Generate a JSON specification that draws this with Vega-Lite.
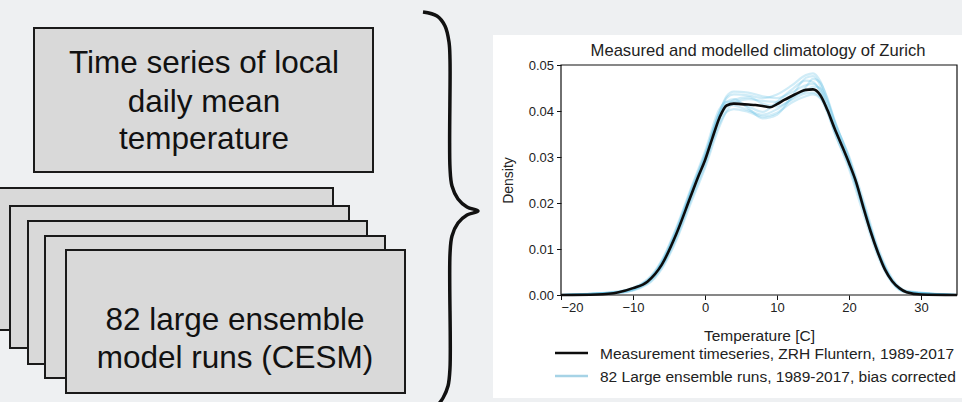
{
  "$schema": "https://vega.github.io/schema/vega-lite/v6.json",
  "width": 396,
  "height": 230,
  "autosize": "none",
  "padding": {"left": 561, "top": 65, "right": 5, "bottom": 107},
  "background": "#eef0f2",
  "config": {"font": "Liberation Sans", "view": {"stroke": null}},
  "datasets": {
    "boxes": [
      {"id": 0, "x": 34, "x2": 373, "y": 28, "y2": 172},
      {"id": 1, "x": -6, "x2": 333, "y": 188, "y2": 330},
      {"id": 2, "x": 10, "x2": 349, "y": 206, "y2": 348},
      {"id": 3, "x": 28, "x2": 367, "y": 221, "y2": 364},
      {"id": 4, "x": 45, "x2": 385, "y": 236, "y2": 378},
      {"id": 5, "x": 66, "x2": 405, "y": 250, "y2": 393}
    ],
    "panel": [{"x": 493, "x2": 970, "y": 35, "y2": 398}],
    "labels": [
      {"x": 204, "y": 73, "text": "Time series of local"},
      {"x": 204, "y": 112, "text": "daily mean"},
      {"x": 204, "y": 149, "text": "temperature"},
      {"x": 235, "y": 330, "text": "82 large ensemble"},
      {"x": 235, "y": 368, "text": "model runs (CESM)"}
    ],
    "chartTitle": [
      {"x": 758, "y": 51, "text": "Measured and modelled climatology of Zurich"}
    ],
    "brace": [
      {"i": 0, "x": 423, "y": 12}, {"i": 1, "x": 437, "y": 16}, {"i": 2, "x": 445, "y": 26},
      {"i": 3, "x": 449, "y": 42}, {"i": 4, "x": 450, "y": 60}, {"i": 5, "x": 450, "y": 168},
      {"i": 6, "x": 452, "y": 186}, {"i": 7, "x": 458, "y": 199}, {"i": 8, "x": 467, "y": 207},
      {"i": 9, "x": 478, "y": 211}, {"i": 10, "x": 467, "y": 215}, {"i": 11, "x": 458, "y": 223},
      {"i": 12, "x": 452, "y": 236}, {"i": 13, "x": 450, "y": 254}, {"i": 14, "x": 450, "y": 368},
      {"i": 15, "x": 448, "y": 386}, {"i": 16, "x": 443, "y": 398}, {"i": 17, "x": 437, "y": 406}
    ],
    "legendRules": [
      {"x": 555, "x2": 588, "y": 353, "s": "Measurement"},
      {"x": 555, "x2": 588, "y": 376, "s": "Ensemble"}
    ],
    "legendText": [
      {"x": 600, "y": 354, "text": "Measurement timeseries, ZRH Fluntern, 1989-2017"},
      {"x": 600, "y": 377, "text": "82 Large ensemble runs, 1989-2017, bias corrected"}
    ],
    "meas": [
      {"t": -20, "d": 0}, {"t": -15, "d": 0.0001}, {"t": -12, "d": 0.0006}, {"t": -10, "d": 0.0015},
      {"t": -8, "d": 0.0029}, {"t": -6, "d": 0.0066}, {"t": -4, "d": 0.0132}, {"t": -2, "d": 0.0214},
      {"t": -1, "d": 0.0255}, {"t": 0, "d": 0.0293}, {"t": 1, "d": 0.034}, {"t": 2, "d": 0.0385},
      {"t": 3, "d": 0.0412}, {"t": 4, "d": 0.0416}, {"t": 5, "d": 0.0415}, {"t": 6, "d": 0.0414},
      {"t": 7, "d": 0.0413}, {"t": 8, "d": 0.0411}, {"t": 9, "d": 0.0408}, {"t": 10, "d": 0.0415},
      {"t": 11, "d": 0.0424}, {"t": 12, "d": 0.0432}, {"t": 13, "d": 0.044}, {"t": 14, "d": 0.0446},
      {"t": 15, "d": 0.0447}, {"t": 16, "d": 0.0435}, {"t": 17, "d": 0.0402}, {"t": 18, "d": 0.0362},
      {"t": 19, "d": 0.0325}, {"t": 20, "d": 0.0287}, {"t": 21, "d": 0.0245}, {"t": 22, "d": 0.019},
      {"t": 23, "d": 0.0138}, {"t": 24, "d": 0.0093}, {"t": 25, "d": 0.0055}, {"t": 26, "d": 0.003},
      {"t": 27, "d": 0.0015}, {"t": 28, "d": 0.0006}, {"t": 30, "d": 0.0001}, {"t": 35, "d": 0}
    ],
    "ens": [
      {"r": 1, "t": -20, "d": 0}, {"r": 1, "t": -12, "d": 0.0007}, {"r": 1, "t": -8, "d": 0.0031}, {"r": 1, "t": -6, "d": 0.0072}, {"r": 1, "t": -4, "d": 0.014}, {"r": 1, "t": -2, "d": 0.0224}, {"r": 1, "t": 0, "d": 0.0304}, {"r": 1, "t": 2, "d": 0.0398}, {"r": 1, "t": 3, "d": 0.0428}, {"r": 1, "t": 4, "d": 0.0436}, {"r": 1, "t": 6, "d": 0.0434}, {"r": 1, "t": 8, "d": 0.0428}, {"r": 1, "t": 10, "d": 0.0436}, {"r": 1, "t": 12, "d": 0.0455}, {"r": 1, "t": 14, "d": 0.0478}, {"r": 1, "t": 15, "d": 0.0482}, {"r": 1, "t": 16, "d": 0.0465}, {"r": 1, "t": 17, "d": 0.0425}, {"r": 1, "t": 18, "d": 0.0378}, {"r": 1, "t": 20, "d": 0.0298}, {"r": 1, "t": 22, "d": 0.0196}, {"r": 1, "t": 24, "d": 0.0096}, {"r": 1, "t": 26, "d": 0.0032}, {"r": 1, "t": 28, "d": 0.0007}, {"r": 1, "t": 35, "d": 0},
      {"r": 2, "t": -20, "d": 0}, {"r": 2, "t": -12, "d": 0.0005}, {"r": 2, "t": -8, "d": 0.0025}, {"r": 2, "t": -6, "d": 0.006}, {"r": 2, "t": -4, "d": 0.0122}, {"r": 2, "t": -2, "d": 0.0204}, {"r": 2, "t": 0, "d": 0.0282}, {"r": 2, "t": 2, "d": 0.0372}, {"r": 2, "t": 3, "d": 0.0398}, {"r": 2, "t": 4, "d": 0.0404}, {"r": 2, "t": 6, "d": 0.0398}, {"r": 2, "t": 8, "d": 0.0388}, {"r": 2, "t": 10, "d": 0.0396}, {"r": 2, "t": 12, "d": 0.0418}, {"r": 2, "t": 14, "d": 0.0432}, {"r": 2, "t": 15, "d": 0.0436}, {"r": 2, "t": 16, "d": 0.0428}, {"r": 2, "t": 17, "d": 0.0396}, {"r": 2, "t": 18, "d": 0.0352}, {"r": 2, "t": 20, "d": 0.028}, {"r": 2, "t": 22, "d": 0.0186}, {"r": 2, "t": 24, "d": 0.009}, {"r": 2, "t": 26, "d": 0.0028}, {"r": 2, "t": 28, "d": 0.0006}, {"r": 2, "t": 35, "d": 0},
      {"r": 3, "t": -20, "d": 0}, {"r": 3, "t": -12, "d": 0.0008}, {"r": 3, "t": -8, "d": 0.0034}, {"r": 3, "t": -6, "d": 0.0076}, {"r": 3, "t": -4, "d": 0.0146}, {"r": 3, "t": -2, "d": 0.023}, {"r": 3, "t": 0, "d": 0.0312}, {"r": 3, "t": 2, "d": 0.0404}, {"r": 3, "t": 3, "d": 0.042}, {"r": 3, "t": 4, "d": 0.042}, {"r": 3, "t": 6, "d": 0.041}, {"r": 3, "t": 8, "d": 0.0398}, {"r": 3, "t": 10, "d": 0.042}, {"r": 3, "t": 12, "d": 0.0446}, {"r": 3, "t": 14, "d": 0.0466}, {"r": 3, "t": 15, "d": 0.0463}, {"r": 3, "t": 16, "d": 0.0442}, {"r": 3, "t": 17, "d": 0.04}, {"r": 3, "t": 18, "d": 0.0354}, {"r": 3, "t": 20, "d": 0.0274}, {"r": 3, "t": 22, "d": 0.0176}, {"r": 3, "t": 24, "d": 0.0084}, {"r": 3, "t": 26, "d": 0.0026}, {"r": 3, "t": 28, "d": 0.0005}, {"r": 3, "t": 35, "d": 0},
      {"r": 4, "t": -20, "d": 0}, {"r": 4, "t": -12, "d": 0.0004}, {"r": 4, "t": -8, "d": 0.0023}, {"r": 4, "t": -6, "d": 0.0057}, {"r": 4, "t": -4, "d": 0.0118}, {"r": 4, "t": -2, "d": 0.0198}, {"r": 4, "t": 0, "d": 0.0276}, {"r": 4, "t": 2, "d": 0.0366}, {"r": 4, "t": 3, "d": 0.04}, {"r": 4, "t": 4, "d": 0.0418}, {"r": 4, "t": 6, "d": 0.0426}, {"r": 4, "t": 8, "d": 0.0422}, {"r": 4, "t": 10, "d": 0.042}, {"r": 4, "t": 12, "d": 0.0432}, {"r": 4, "t": 14, "d": 0.0443}, {"r": 4, "t": 15, "d": 0.0453}, {"r": 4, "t": 16, "d": 0.045}, {"r": 4, "t": 17, "d": 0.042}, {"r": 4, "t": 18, "d": 0.0376}, {"r": 4, "t": 20, "d": 0.0302}, {"r": 4, "t": 22, "d": 0.0206}, {"r": 4, "t": 24, "d": 0.0104}, {"r": 4, "t": 26, "d": 0.0036}, {"r": 4, "t": 28, "d": 0.0009}, {"r": 4, "t": 35, "d": 0},
      {"r": 5, "t": -20, "d": 0}, {"r": 5, "t": -12, "d": 0.0006}, {"r": 5, "t": -8, "d": 0.0029}, {"r": 5, "t": -6, "d": 0.0068}, {"r": 5, "t": -4, "d": 0.0134}, {"r": 5, "t": -2, "d": 0.0218}, {"r": 5, "t": 0, "d": 0.0298}, {"r": 5, "t": 2, "d": 0.0392}, {"r": 5, "t": 3, "d": 0.042}, {"r": 5, "t": 4, "d": 0.0426}, {"r": 5, "t": 6, "d": 0.0406}, {"r": 5, "t": 8, "d": 0.0384}, {"r": 5, "t": 10, "d": 0.0392}, {"r": 5, "t": 12, "d": 0.043}, {"r": 5, "t": 14, "d": 0.0472}, {"r": 5, "t": 15, "d": 0.0476}, {"r": 5, "t": 16, "d": 0.0456}, {"r": 5, "t": 17, "d": 0.041}, {"r": 5, "t": 18, "d": 0.0362}, {"r": 5, "t": 20, "d": 0.0288}, {"r": 5, "t": 22, "d": 0.0192}, {"r": 5, "t": 24, "d": 0.0094}, {"r": 5, "t": 26, "d": 0.0031}, {"r": 5, "t": 28, "d": 0.0007}, {"r": 5, "t": 35, "d": 0},
      {"r": 6, "t": -20, "d": 0}, {"r": 6, "t": -12, "d": 0.0006}, {"r": 6, "t": -8, "d": 0.003}, {"r": 6, "t": -6, "d": 0.0069}, {"r": 6, "t": -4, "d": 0.0136}, {"r": 6, "t": -2, "d": 0.022}, {"r": 6, "t": 0, "d": 0.03}, {"r": 6, "t": 2, "d": 0.0396}, {"r": 6, "t": 3, "d": 0.0432}, {"r": 6, "t": 4, "d": 0.0442}, {"r": 6, "t": 6, "d": 0.044}, {"r": 6, "t": 8, "d": 0.0432}, {"r": 6, "t": 10, "d": 0.0428}, {"r": 6, "t": 12, "d": 0.044}, {"r": 6, "t": 14, "d": 0.0456}, {"r": 6, "t": 15, "d": 0.0459}, {"r": 6, "t": 16, "d": 0.0446}, {"r": 6, "t": 17, "d": 0.0408}, {"r": 6, "t": 18, "d": 0.0366}, {"r": 6, "t": 20, "d": 0.029}, {"r": 6, "t": 22, "d": 0.0195}, {"r": 6, "t": 24, "d": 0.0096}, {"r": 6, "t": 26, "d": 0.0031}, {"r": 6, "t": 28, "d": 0.0007}, {"r": 6, "t": 35, "d": 0},
      {"r": 7, "t": -20, "d": 0}, {"r": 7, "t": -12, "d": 0.0007}, {"r": 7, "t": -8, "d": 0.0032}, {"r": 7, "t": -6, "d": 0.0073}, {"r": 7, "t": -4, "d": 0.0142}, {"r": 7, "t": -2, "d": 0.0226}, {"r": 7, "t": 0, "d": 0.0306}, {"r": 7, "t": 2, "d": 0.0394}, {"r": 7, "t": 3, "d": 0.0414}, {"r": 7, "t": 4, "d": 0.0412}, {"r": 7, "t": 6, "d": 0.0402}, {"r": 7, "t": 8, "d": 0.0392}, {"r": 7, "t": 10, "d": 0.0404}, {"r": 7, "t": 12, "d": 0.0426}, {"r": 7, "t": 14, "d": 0.0452}, {"r": 7, "t": 15, "d": 0.047}, {"r": 7, "t": 16, "d": 0.0462}, {"r": 7, "t": 17, "d": 0.0428}, {"r": 7, "t": 18, "d": 0.038}, {"r": 7, "t": 20, "d": 0.0296}, {"r": 7, "t": 22, "d": 0.0198}, {"r": 7, "t": 24, "d": 0.0098}, {"r": 7, "t": 26, "d": 0.0033}, {"r": 7, "t": 28, "d": 0.0008}, {"r": 7, "t": 35, "d": 0},
      {"r": 8, "t": -20, "d": 0}, {"r": 8, "t": -12, "d": 0.0005}, {"r": 8, "t": -8, "d": 0.0027}, {"r": 8, "t": -6, "d": 0.0063}, {"r": 8, "t": -4, "d": 0.0128}, {"r": 8, "t": -2, "d": 0.021}, {"r": 8, "t": 0, "d": 0.029}, {"r": 8, "t": 2, "d": 0.038}, {"r": 8, "t": 3, "d": 0.041}, {"r": 8, "t": 4, "d": 0.0424}, {"r": 8, "t": 6, "d": 0.043}, {"r": 8, "t": 8, "d": 0.0416}, {"r": 8, "t": 10, "d": 0.041}, {"r": 8, "t": 12, "d": 0.0424}, {"r": 8, "t": 14, "d": 0.0438}, {"r": 8, "t": 15, "d": 0.044}, {"r": 8, "t": 16, "d": 0.043}, {"r": 8, "t": 17, "d": 0.0404}, {"r": 8, "t": 18, "d": 0.0364}, {"r": 8, "t": 20, "d": 0.0284}, {"r": 8, "t": 22, "d": 0.0188}, {"r": 8, "t": 24, "d": 0.0091}, {"r": 8, "t": 26, "d": 0.0029}, {"r": 8, "t": 28, "d": 0.0006}, {"r": 8, "t": 35, "d": 0}
    ]
  },
  "layer": [
    {
      "layer": [
        {
          "data": {"name": "panel"},
          "mark": {"type": "rect", "fill": "#ffffff"},
          "encoding": {
            "x": {"field": "x", "type": "quantitative", "scale": {"domain": [0, 962], "range": [-561, 401], "nice": false, "zero": false}, "axis": null},
            "x2": {"field": "x2"},
            "y": {"field": "y", "type": "quantitative", "scale": {"domain": [0, 402], "range": [-65, 337], "nice": false, "zero": false}, "axis": null},
            "y2": {"field": "y2"}
          }
        },
        {
          "data": {"name": "boxes"},
          "mark": {"type": "rect", "fill": "#d9d9d9", "stroke": "#1a1a1a", "strokeWidth": 2},
          "encoding": {
            "x": {"field": "x", "type": "quantitative"},
            "x2": {"field": "x2"},
            "y": {"field": "y", "type": "quantitative"},
            "y2": {"field": "y2"}
          }
        },
        {
          "data": {"name": "labels"},
          "mark": {"type": "text", "fontSize": 31.5, "color": "#111111", "align": "center", "baseline": "alphabetic", "font": "Liberation Sans"},
          "encoding": {
            "x": {"field": "x", "type": "quantitative"},
            "y": {"field": "y", "type": "quantitative"},
            "text": {"field": "text"}
          }
        },
        {
          "data": {"name": "chartTitle"},
          "mark": {"type": "text", "fontSize": 16.6, "color": "#222222", "align": "center", "baseline": "middle", "font": "Liberation Sans"},
          "encoding": {
            "x": {"field": "x", "type": "quantitative"},
            "y": {"field": "y", "type": "quantitative"},
            "text": {"field": "text"}
          }
        },
        {
          "data": {"name": "brace"},
          "mark": {"type": "line", "interpolate": "catmull-rom", "color": "#111111", "strokeWidth": 3.5},
          "encoding": {
            "x": {"field": "x", "type": "quantitative"},
            "y": {"field": "y", "type": "quantitative"},
            "order": {"field": "i"}
          }
        },
        {
          "data": {"name": "legendRules"},
          "mark": {"type": "rule", "strokeWidth": 2.5},
          "encoding": {
            "x": {"field": "x", "type": "quantitative"},
            "x2": {"field": "x2"},
            "y": {"field": "y", "type": "quantitative"},
            "color": {"field": "s", "type": "nominal", "scale": {"domain": ["Measurement", "Ensemble"], "range": ["#0d0d0d", "#a6d3e6"]}, "legend": null}
          }
        },
        {
          "data": {"name": "legendText"},
          "mark": {"type": "text", "fontSize": 15.5, "color": "#222222", "align": "left", "baseline": "middle", "font": "Liberation Sans"},
          "encoding": {
            "x": {"field": "x", "type": "quantitative"},
            "y": {"field": "y", "type": "quantitative"},
            "text": {"field": "text"}
          }
        }
      ]
    },
    {
      "layer": [
        {
          "data": {"name": "ens"},
          "mark": {"type": "line", "interpolate": "monotone", "color": "#56b9e2", "opacity": 0.28, "strokeWidth": 2.2},
          "encoding": {
            "x": {"field": "t", "type": "quantitative", "scale": {"domain": [-20, 35], "nice": false, "zero": false},
              "axis": {"orient": "bottom", "zindex": 2, "values": [-20, -10, 0, 10, 20, 30], "title": "Temperature [C]", "domain": false, "grid": false, "tickSize": 4.5, "tickColor": "#111111", "labelFontSize": 13, "labelColor": "#222222", "labelPadding": 2, "titleFontSize": 15.5, "titleFontWeight": "normal", "titleColor": "#222222", "titlePadding": 14}},
            "y": {"field": "d", "type": "quantitative", "scale": {"domain": [0, 0.05], "nice": false, "zero": false},
              "axis": {"orient": "left", "zindex": 2, "values": [0, 0.01, 0.02, 0.03, 0.04, 0.05], "format": ".2f", "title": "Density", "domain": false, "grid": false, "tickSize": 4.5, "tickColor": "#111111", "labelFontSize": 13, "labelColor": "#222222", "labelPadding": 3, "titleFontSize": 14, "titleFontWeight": "normal", "titleColor": "#222222", "titlePadding": 13}},
            "detail": {"field": "r", "type": "nominal"}
          }
        },
        {
          "data": {"name": "meas"},
          "mark": {"type": "line", "interpolate": "monotone", "color": "#0d0d0d", "strokeWidth": 2.6},
          "encoding": {
            "x": {"field": "t", "type": "quantitative"},
            "y": {"field": "d", "type": "quantitative"}
          }
        },
        {
          "data": {"values": [{"t": -20, "t2": 35, "d": 0, "d2": 0.05}]},
          "mark": {"type": "rect", "fill": "transparent", "stroke": "#111111", "strokeWidth": 1.2},
          "encoding": {
            "x": {"field": "t", "type": "quantitative"},
            "x2": {"field": "t2"},
            "y": {"field": "d", "type": "quantitative"},
            "y2": {"field": "d2"}
          }
        }
      ]
    }
  ],
  "resolve": {"scale": {"x": "independent", "y": "independent"}}
}
